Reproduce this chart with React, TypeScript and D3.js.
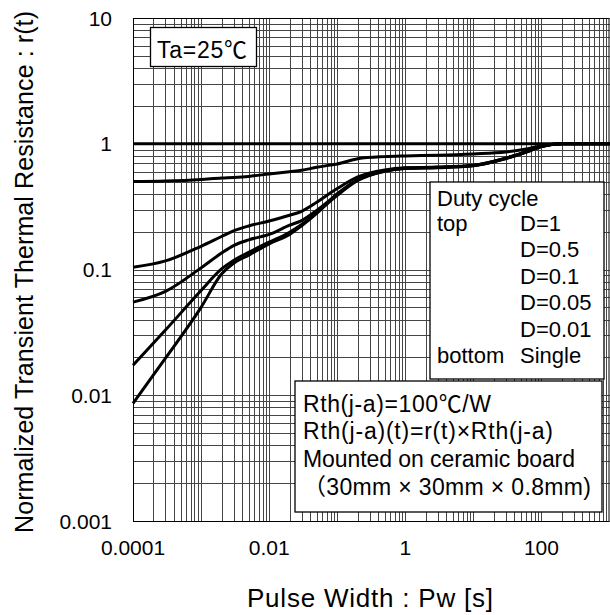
import React, { useEffect, useRef } from "react";
import * as d3 from "d3";

// pulse width samples [s] shared by all curves
const pulseWidths = [
  0.0001, 0.0003, 0.001, 0.002, 0.003, 0.005, 0.01, 0.02, 0.03, 0.05, 0.07,
  0.1, 0.2, 0.5, 1, 3, 10, 30, 60, 100, 200, 1000,
];
const rD1 = [1, 1, 1, 1, 1, 1, 1, 1, 1, 1, 1, 1, 1, 1, 1, 1, 1, 1, 1, 1, 1, 1];
const rD05 = [
  0.5, 0.505, 0.52, 0.535, 0.54, 0.55, 0.575, 0.6, 0.615, 0.65, 0.67, 0.69,
  0.76, 0.79, 0.8, 0.81, 0.83, 0.86, 0.91, 0.965, 1, 1,
];
const rD01 = [
  0.104, 0.117, 0.153, 0.183, 0.203, 0.222, 0.243, 0.27, 0.29, 0.343, 0.388,
  0.44, 0.545, 0.62, 0.645, 0.652, 0.675, 0.77, 0.865, 0.955, 1, 1,
];
const rD005 = [
  0.055, 0.067, 0.103, 0.135, 0.155, 0.172, 0.19, 0.225, 0.245, 0.295, 0.34,
  0.4, 0.52, 0.61, 0.64, 0.649, 0.672, 0.767, 0.862, 0.953, 1, 1,
];
const rD001 = [
  0.0173, 0.033, 0.068, 0.101, 0.118, 0.137, 0.165, 0.198, 0.228, 0.285,
  0.335, 0.395, 0.515, 0.607, 0.638, 0.647, 0.67, 0.764, 0.86, 0.952, 1, 1,
];
const rSingle = [
  0.0086, 0.0197, 0.05, 0.092, 0.112, 0.13, 0.16, 0.19, 0.223, 0.28, 0.33,
  0.388, 0.51, 0.605, 0.635, 0.645, 0.668, 0.762, 0.858, 0.95, 1, 1,
];
const series = [rD1, rD05, rD01, rD005, rD001, rSingle];

const xTicks = [0.0001, 0.01, 1, 100];
const xTickLabels = ["0.0001", "0.01", "1", "100"];
const yTicks = [0.001, 0.01, 0.1, 1, 10];
const yTickLabels = ["0.001", "0.01", "0.1", "1", "10"];

const dutyLabels = ["D=1", "D=0.5", "D=0.1", "D=0.05", "D=0.01", "Single"];
const noteLines = [
  "Rth(j-a)=100℃/W",
  "Rth(j-a)(t)=r(t)×Rth(j-a)",
  "Mounted on ceramic board",
  "（30mm × 30mm × 0.8mm)",
];

const W = 610;
const H = 615;
const FONT = "'Liberation Sans', Arial, 'Noto Sans CJK JP', sans-serif";

const App = () => {
  const svgRef = useRef<SVGSVGElement>(null);

  useEffect(() => {
    const svg = d3.select(svgRef.current);
    svg.selectAll("*").remove();

    const left = 133;
    const right = 609.5;
    const top = 18;
    const bottom = 521;

    const x = d3.scaleLog().domain([0.0001, 1000]).range([left, right]);
    const y = d3.scaleLog().domain([0.001, 10]).range([bottom, top]);

    // grid lines at every 1..9 x 10^n
    const xGrid: number[] = [];
    for (let e = -4; e < 3; e++)
      for (let k = 1; k < 10; k++) xGrid.push(k * Math.pow(10, e));
    const yGrid: number[] = [];
    for (let e = -3; e < 1; e++)
      for (let k = 1; k < 10; k++) yGrid.push(k * Math.pow(10, e));
    yGrid.push(10);

    const grid = svg.append("g").attr("stroke", "#454545").attr("stroke-width", 1);
    grid
      .selectAll("line.v")
      .data(xGrid)
      .join("line")
      .attr("class", "v")
      .attr("x1", (d) => Math.round(x(d)) + 0.5)
      .attr("x2", (d) => Math.round(x(d)) + 0.5)
      .attr("y1", top)
      .attr("y2", bottom);
    grid
      .selectAll("line.h")
      .data(yGrid)
      .join("line")
      .attr("class", "h")
      .attr("y1", (d) => Math.round(y(d)) + 0.5)
      .attr("y2", (d) => Math.round(y(d)) + 0.5)
      .attr("x1", left)
      .attr("x2", right);

    svg
      .append("rect")
      .attr("x", left + 0.5)
      .attr("y", top + 0.5)
      .attr("width", right - left - 1)
      .attr("height", bottom - top)
      .attr("fill", "none")
      .attr("stroke", "#000")
      .attr("stroke-width", 1);

    // curves
    const line = d3
      .line<number>()
      .x((_, i) => x(pulseWidths[i]))
      .y((d) => y(d))
      .curve(d3.curveMonotoneX);
    svg
      .append("g")
      .selectAll("path")
      .data(series)
      .join("path")
      .attr("d", (d) => line(d))
      .attr("fill", "none")
      .attr("stroke", "#000")
      .attr("stroke-width", 3);

    // tick labels
    svg
      .append("g")
      .attr("font-family", FONT)
      .attr("font-size", 21)
      .selectAll("text")
      .data(xTicks)
      .join("text")
      .attr("x", (d) => x(d))
      .attr("y", 555)
      .attr("text-anchor", "middle")
      .text((_, i) => xTickLabels[i]);
    svg
      .append("g")
      .attr("font-family", FONT)
      .attr("font-size", 21)
      .selectAll("text")
      .data(yTicks)
      .join("text")
      .attr("x", 112)
      .attr("y", (d) => y(d))
      .attr("dy", "0.36em")
      .attr("text-anchor", "end")
      .text((_, i) => yTickLabels[i]);

    // axis titles
    svg
      .append("text")
      .attr("x", 370)
      .attr("y", 607)
      .attr("text-anchor", "middle")
      .attr("font-family", FONT)
      .attr("font-size", 26)
      .attr("textLength", 246)
      .attr("lengthAdjust", "spacing")
      .text("Pulse Width : Pw [s]");
    svg
      .append("text")
      .attr("transform", "translate(33,272) rotate(-90)")
      .attr("text-anchor", "middle")
      .attr("font-family", FONT)
      .attr("font-size", 25)
      .attr("textLength", 522)
      .attr("lengthAdjust", "spacing")
      .text("Normalized Transient Thermal Resistance : r(t)");

    // Ta box
    svg
      .append("rect")
      .attr("x", 150.5)
      .attr("y", 27.5)
      .attr("width", 106)
      .attr("height", 39)
      .attr("fill", "#fff")
      .attr("stroke", "#000")
      .attr("stroke-width", 1.3);
    svg
      .append("text")
      .attr("x", 157)
      .attr("y", 58)
      .attr("font-family", FONT)
      .attr("font-size", 23)
      .attr("textLength", 90)
      .attr("lengthAdjust", "spacing")
      .text("Ta=25℃");

    // duty cycle legend
    const lg = svg.append("g").attr("font-family", FONT).attr("font-size", 22);
    lg.append("rect")
      .attr("x", 430)
      .attr("y", 182)
      .attr("width", 174)
      .attr("height", 197)
      .attr("fill", "#fff")
      .attr("stroke", "#000")
      .attr("stroke-width", 1.3);
    lg.append("text").attr("x", 437).attr("y", 206).text("Duty cycle");
    lg.append("text").attr("x", 437).attr("y", 231).text("top");
    lg.append("text").attr("x", 437).attr("y", 363).text("bottom");
    lg.selectAll("text.d")
      .data(dutyLabels)
      .join("text")
      .attr("class", "d")
      .attr("x", 520)
      .attr("y", (_, i) => 231 + i * 26.4)
      .text((d) => d);

    // note box
    const nb = svg.append("g").attr("font-family", FONT).attr("font-size", 23);
    nb.append("rect")
      .attr("x", 295)
      .attr("y", 381)
      .attr("width", 307)
      .attr("height", 131)
      .attr("fill", "#fff")
      .attr("stroke", "#000")
      .attr("stroke-width", 1.3);
    const noteWidths = [188, 250, 272, 288];
    nb.selectAll("text")
      .data(noteLines)
      .join("text")
      .attr("x", 303)
      .attr("y", (_, i) => 411.5 + i * 27.8)
      .attr("textLength", (_, i) => noteWidths[i])
      .attr("lengthAdjust", "spacing")
      .text((d) => d);
  }, []);

  return (
    <div style={{ position: "absolute", left: 0, top: 0 }}>
      <svg ref={svgRef} width={W} height={H} style={{ display: "block", background: "#fff" }} />
    </div>
  );
};

export default App;
